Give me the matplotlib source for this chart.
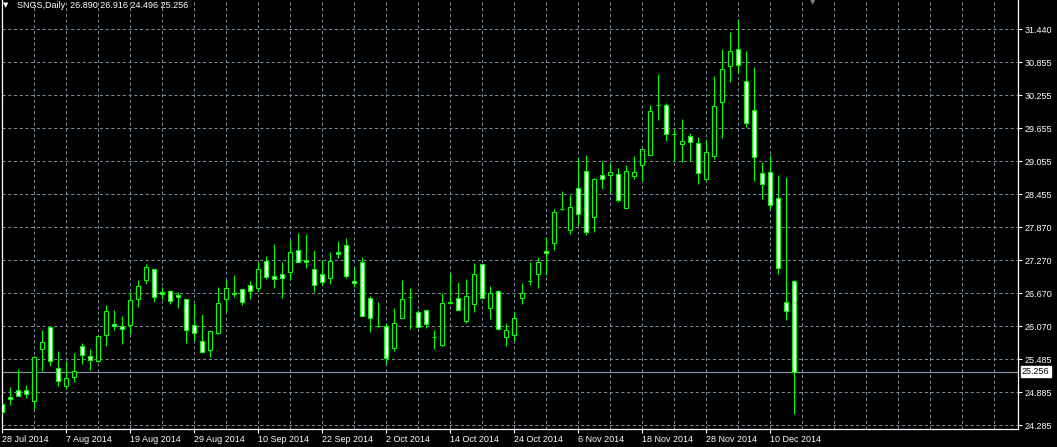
import numpy as np
import matplotlib.pyplot as plt
from matplotlib.transforms import blended_transform_factory

# SNGS daily candles, 28 Jul 2014 .. 15 Dec 2014 (100 bars)
opens = [24.67, 24.80, 24.92, 24.92, 24.72, 25.66, 26.06, 25.32, 25.00, 25.16,
         25.71, 25.53, 25.45, 25.91, 26.11, 26.08, 26.09, 26.57, 26.91, 27.11,
         26.69, 26.71, 26.64, 26.57, 26.09, 25.81, 25.64, 25.95, 26.57, 26.66,
         26.74, 26.82, 26.76, 27.25, 26.98, 27.01, 27.06, 27.46, 27.28, 27.11,
         27.01, 26.94, 27.42, 27.54, 26.89, 27.23, 26.58, 26.07, 26.07, 25.68,
         26.23, 26.60, 26.34, 26.36, 25.88, 25.73, 26.50, 26.58, 26.17, 26.48,
         27.20, 26.40, 26.71, 25.88, 25.91, 26.58, 26.89, 27.01, 27.43, 27.57,
         28.19, 27.82, 28.57, 28.88, 28.04, 28.80, 28.81, 28.83, 28.21, 28.79,
         28.99, 29.17, 30.07, 30.08, 29.55, 29.36, 29.52, 29.39, 28.74, 29.15,
         30.12, 30.78, 31.08, 30.50, 29.99, 28.84, 28.86, 28.40, 26.51, 26.890]
highs = [25.00, 24.98, 25.31, 25.02, 25.54, 26.01, 26.06, 25.63, 25.45, 25.59,
         25.78, 25.67, 25.90, 26.46, 26.37, 26.26, 26.70, 26.91, 27.20, 27.11,
         26.78, 26.73, 26.70, 26.57, 26.49, 26.30, 25.99, 26.79, 26.93, 27.00,
         26.74, 26.89, 27.24, 27.34, 27.56, 27.23, 27.63, 27.76, 27.74, 27.45,
         27.27, 27.41, 27.61, 27.66, 27.14, 27.32, 26.62, 26.51, 26.13, 26.41,
         26.91, 26.76, 26.36, 26.36, 26.00, 26.68, 27.04, 26.88, 26.93, 27.22,
         27.20, 26.80, 26.73, 26.13, 26.33, 26.86, 27.24, 27.33, 27.68, 28.20,
         28.51, 28.45, 29.12, 29.16, 28.76, 29.06, 29.03, 28.94, 28.98, 29.15,
         29.27, 30.08, 30.64, 30.11, 29.63, 29.81, 29.56, 29.49, 29.46, 30.60,
         31.08, 31.39, 31.63, 31.05, 30.75, 29.04, 29.16, 28.81, 28.77, 26.916]
lows = [24.45, 24.66, 24.81, 24.77, 24.58, 25.26, 25.35, 25.00, 24.94, 25.06,
        25.40, 25.29, 25.43, 25.72, 26.01, 25.76, 25.93, 26.43, 26.83, 26.52,
        26.57, 26.48, 26.41, 25.78, 25.80, 25.61, 25.52, 25.93, 26.34, 26.60,
        26.45, 26.57, 26.69, 26.93, 26.77, 26.58, 26.91, 27.23, 27.12, 26.70,
        26.82, 26.83, 27.31, 26.94, 26.79, 26.26, 25.97, 26.06, 25.39, 25.62,
        26.22, 26.02, 26.05, 26.05, 25.67, 25.71, 26.47, 26.36, 26.14, 26.34,
        26.59, 26.21, 26.02, 25.71, 25.80, 26.48, 26.82, 26.76, 27.00, 27.45,
        28.17, 27.75, 27.89, 27.72, 27.77, 28.55, 28.49, 28.32, 28.21, 28.74,
        28.70, 29.17, 29.80, 29.42, 29.06, 29.05, 29.06, 28.65, 28.72, 29.10,
        29.48, 30.48, 30.65, 29.68, 28.69, 28.38, 28.19, 27.02, 26.19, 24.496]
closes = [24.52, 24.76, 24.81, 24.85, 25.52, 25.79, 25.45, 25.08, 25.14, 25.26,
          25.55, 25.46, 25.90, 26.35, 26.08, 26.02, 26.55, 26.80, 27.14, 26.61,
          26.65, 26.53, 26.60, 26.01, 25.96, 25.61, 25.99, 26.49, 26.76, 26.67,
          26.51, 26.72, 27.10, 26.96, 26.93, 26.94, 27.41, 27.24, 27.24, 26.82,
          26.87, 27.25, 27.38, 26.98, 26.85, 26.26, 26.22, 26.07, 25.50, 26.13,
          26.56, 26.60, 26.06, 26.11, 25.88, 26.49, 26.51, 26.36, 26.62, 27.01,
          26.59, 26.67, 26.02, 26.00, 26.23, 26.68, 26.89, 27.24, 27.40, 28.14,
          28.19, 28.23, 28.10, 27.78, 28.74, 28.74, 28.86, 28.36, 28.88, 28.86,
          29.27, 29.97, 30.07, 29.55, 29.55, 29.43, 29.40, 28.84, 29.22, 30.05,
          30.72, 31.04, 30.79, 29.74, 29.13, 28.64, 28.27, 27.12, 26.35, 25.256]

date_labels = ['28 Jul 2014', '7 Aug 2014', '19 Aug 2014', '29 Aug 2014', '10 Sep 2014',
               '22 Sep 2014', '2 Oct 2014', '14 Oct 2014', '24 Oct 2014', '6 Nov 2014',
               '18 Nov 2014', '28 Nov 2014', '10 Dec 2014']
price_labels = ['24.285', '24.885', '25.485', '26.070', '26.670', '27.270', '27.870',
                '28.455', '29.055', '29.655', '30.255', '30.855', '31.440']
last_price = 25.256

o = np.array(opens)
h = np.array(highs)
l = np.array(lows)
c = np.array(closes)
x = np.arange(len(o))

lime = '#00ff00'
gridc = '#778899'
W, H = 1057, 447

plt.rcParams['font.family'] = ['Liberation Sans', 'DejaVu Sans']
fig = plt.figure(figsize=(W / 100, H / 100), dpi=100, facecolor='black')
ax = fig.add_axes([1.7 / W, (H - 428.5) / H, (1018.3 - 1.7) / W, 428.5 / H])
ax.set_facecolor('black')

ax.set_xlim(-0.075, 127.0)
ax.set_ylim(24.227, 31.969)

# grid
grid_y = np.linspace(24.285, 31.440, len(price_labels))
for gy in grid_y:
    ax.axhline(gy, color=gridc, lw=0.75, dashes=(3, 2.5), zorder=0)
for gx in np.arange(4, 127, 4):
    ax.axvline(gx, color=gridc, lw=0.75, dashes=(3, 2.5), zorder=0)

# bid line
ax.axhline(last_price, color='#8090a0', lw=0.9, zorder=1)

# candles
ax.vlines(x, l, h, color=lime, lw=0.8, zorder=2)
bear = c < o
face = np.where(bear, 'white', 'black')
ax.bar(x, np.abs(c - o), bottom=np.minimum(o, c), width=0.5,
       color=face, edgecolor=lime, linewidth=0.8, zorder=3)

# axes styling
for s in ['left', 'bottom', 'right']:
    ax.spines[s].set_color('white')
    ax.spines[s].set_linewidth(0.9)
ax.spines['top'].set_visible(False)

ax.yaxis.tick_right()
ax.set_yticks(grid_y)
ax.set_yticklabels(price_labels)
ax.set_xticks(np.arange(0, 8 * len(date_labels), 8))
ax.set_xticklabels(date_labels, ha='left')
ax.tick_params(axis='both', colors='white', labelcolor='white', labelsize=6.5,
               length=3, width=0.8, pad=1.5)
for t in ax.get_xticklabels():
    t.set_x(t.get_position()[0])
ax.tick_params(axis='x', pad=2)

trans = blended_transform_factory(ax.transAxes, ax.transData)
ax.text(1.0035, last_price, '25.256', transform=trans, ha='left', va='center',
        fontsize=6.5, color='black',
        bbox=dict(boxstyle='square,pad=0.15', fc='white', ec='white'))

# header
fig.text(3 / W, 1 - 2 / H, '\u25bc', color='white', fontsize=5, va='top', ha='left',
         family='DejaVu Sans')
fig.text(17 / W, 1 - 1 / H, 'SNGS,Daily  26.890 26.916 24.496 25.256', color='white',
         fontsize=6.5, va='top', ha='left')
fig.text(813 / W, 1 + 1 / H, '\u25bc', color='#808080', fontsize=5, va='top', ha='center',
         family='DejaVu Sans')

fig.savefig('out.png', dpi=100, facecolor='black')
